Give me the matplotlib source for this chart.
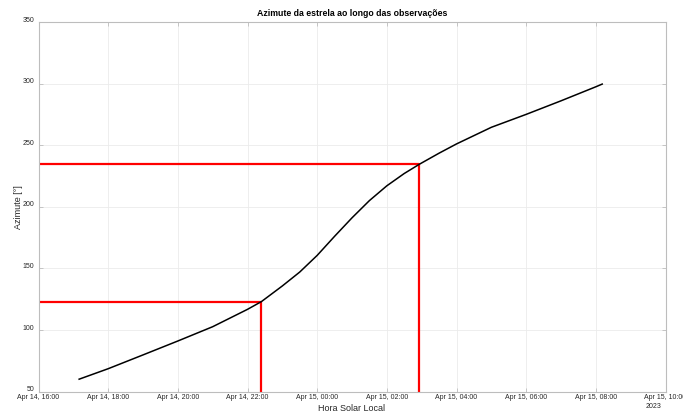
import matplotlib
matplotlib.use("Agg")
import matplotlib.pyplot as plt
import matplotlib.dates as mdates
import matplotlib.transforms as mtransforms
import pandas as pd

plt.rcParams['font.family'] = ['Liberation Sans', 'DejaVu Sans']

# Curve readings: local solar time and azimuth in degrees
times = ["2023-04-14 17:10", "2023-04-14 18:00", "2023-04-14 19:00", "2023-04-14 20:00",
         "2023-04-14 21:00", "2023-04-14 22:00", "2023-04-14 22:24", "2023-04-14 23:00",
         "2023-04-14 23:30", "2023-04-15 00:00", "2023-04-15 00:30", "2023-04-15 01:00",
         "2023-04-15 01:30", "2023-04-15 02:00", "2023-04-15 02:30", "2023-04-15 02:56",
         "2023-04-15 03:30", "2023-04-15 04:00", "2023-04-15 05:00", "2023-04-15 06:00",
         "2023-04-15 07:00", "2023-04-15 08:00", "2023-04-15 08:11"]
azimuth = [60.0, 68.5, 79.7, 91.0, 102.6, 116.7, 123.0, 135.7,
           147.0, 160.5, 176.0, 191.0, 205.0, 217.0, 227.0, 234.5,
           243.5, 251.0, 264.5, 275.0, 286.0, 297.4, 299.6]

# Marked points (red guides)
mark_times = ["2023-04-14 22:24", "2023-04-15 02:56"]
mark_az = [123.0, 234.5]

x_start = "2023-04-14 16:00"
x_end = "2023-04-15 10:00"
y_min, y_max = 50, 350

title = "Azimute da estrela ao longo das observações"
xlabel = "Hora Solar Local"
ylabel = "Azimute [°]"
year_label = "2023"

t = pd.to_datetime(times)
mt = pd.to_datetime(mark_times)
xs = pd.Timestamp(x_start)
xe = pd.Timestamp(x_end)

fig = plt.figure(figsize=(6.83, 4.17), dpi=100)
ax = fig.add_axes([38.5 / 683, 1 - 391.5 / 417, (665.5 - 38.5) / 683, (391.5 - 22) / 417])

ax.plot(t, azimuth, color='black', lw=1.1, zorder=3, solid_joinstyle='round')
for tm, az in zip(mt, mark_az):
    ax.plot([xs, tm, tm], [az, az, y_min], color='red', lw=1.6, zorder=2)

ax.set_xlim(xs, xe)
ax.set_ylim(y_min, y_max)
ax.xaxis.set_major_locator(mdates.HourLocator(byhour=range(0, 24, 2)))
ax.xaxis.set_major_formatter(mdates.DateFormatter('%b %d, %H:%M'))
ax.set_yticks(range(50, 351, 50))

edge = '#bdbdbd'
for s in ax.spines.values():
    s.set_color(edge)
    s.set_linewidth(0.8)
ax.tick_params(direction='in', length=3, width=0.6, color=edge, labelsize=5,
               labelcolor='#262626', top=True, right=True, pad=2)
ax.tick_params(axis='y', pad=3)
shift = mtransforms.ScaledTranslation(0, 2.0 / 72, fig.dpi_scale_trans)
for lbl in ax.get_yticklabels():
    lbl.set_transform(lbl.get_transform() + shift)
ax.grid(True, color='#ebebeb', lw=0.6, zorder=0)

ax.set_title(title, fontsize=6.3, fontweight='bold', color='black', pad=4)
ax.set_xlabel(xlabel, fontsize=6.5, color='#262626', labelpad=2)
ax.set_ylabel(ylabel, fontsize=6.5, color='#262626', labelpad=0)
fig.text(646 / 683, 1 - 407 / 417, year_label, fontsize=5, color='#262626',
         ha='left', va='center')

fig.savefig('out.png', dpi=100)
